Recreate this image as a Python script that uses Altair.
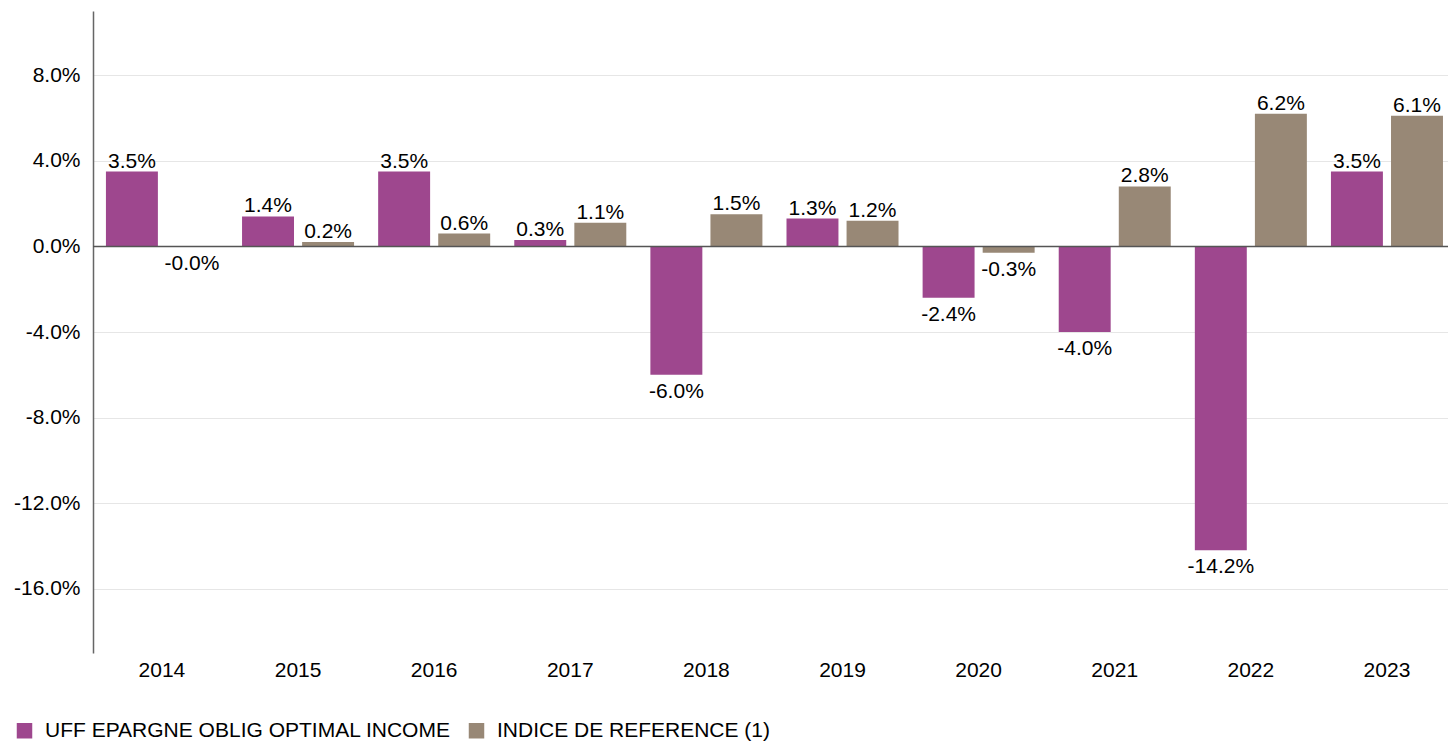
import altair as alt
import pandas as pd

years = ["2014", "2015", "2016", "2017", "2018", "2019", "2020", "2021", "2022", "2023"]
fund = [3.5, 1.4, 3.5, 0.3, -6.0, 1.3, -2.4, -4.0, -14.2, 3.5]
index = [-0.02, 0.2, 0.6, 1.1, 1.5, 1.2, -0.3, 2.8, 6.2, 6.1]
series = ["UFF EPARGNE OBLIG OPTIMAL INCOME", "INDICE DE REFERENCE (1)"]
colors = ["#9E478E", "#988876"]
y_ticks = [-16, -12, -8, -4, 0, 4, 8]

rows = []
for i, y in enumerate(years):
    for s, vals in zip(series, [fund, index]):
        v = vals[i]
        rows.append({"year": y, "series": s, "value": v, "label": f"{v:.1f}%"})
df = pd.DataFrame(rows)

FONT = "Liberation Sans"
FS = 21

x_enc = alt.X("year:N", sort=years,
              scale=alt.Scale(paddingInner=0.177, paddingOuter=0.066, align=0.72),
              axis=alt.Axis(title=None, labelAngle=0, domain=False, ticks=False,
                            labelFontSize=FS, labelFont=FONT, labelColor="#000",
                            labelPadding=6, grid=False))
y_scale = alt.Scale(domain=[-19, 11], nice=False, zero=False)
xoff = alt.XOffset("series:N", sort=series, scale=alt.Scale(paddingInner=0.135, paddingOuter=0))

base = alt.Chart(df)

bars = base.mark_bar().encode(
    x=x_enc,
    xOffset=xoff,
    y=alt.Y("value:Q", scale=y_scale,
            axis=alt.Axis(title=None, values=y_ticks, domain=True, domainColor="#666",
                          domainWidth=1.5, ticks=False, grid=True, gridColor="#e6e6e6",
                          labelFontSize=FS, labelFont=FONT, labelColor="#000", labelPadding=13,
                          labelExpr="(datum.value < 0 ? '-' : '') + format(abs(datum.value), '.1f') + '%'")),
    color=alt.Color("series:N", sort=series,
                    scale=alt.Scale(domain=series, range=colors),
                    legend=alt.Legend(title=None, orient="none", direction="horizontal",
                                      legendX=-79, legendY=709, symbolType="square",
                                      symbolSize=240, symbolStrokeWidth=0, symbolOpacity=1,
                                      labelFontSize=FS, labelFont=FONT, labelColor="#000",
                                      labelOffset=10, columnPadding=15, labelLimit=600,
                                      padding=0)),
)

pos_text = base.transform_filter("datum.value >= 0").mark_text(
    baseline="alphabetic", dy=-4, fontSize=FS, font=FONT, color="#000"
).encode(x=alt.X("year:N", sort=years), xOffset=alt.XOffset("series:N", sort=series),
         y=alt.Y("value:Q", scale=y_scale), text="label:N")

neg_text = base.transform_filter("datum.value < 0").mark_text(
    baseline="top", dy=6, fontSize=FS, font=FONT, color="#000"
).encode(x=alt.X("year:N", sort=years), xOffset=alt.XOffset("series:N", sort=series),
         y=alt.Y("value:Q", scale=y_scale), text="label:N")

zero = alt.Chart(pd.DataFrame({"z": [0]})).mark_rule(color="#555", strokeWidth=1.5).encode(
    y=alt.Y("z:Q", scale=y_scale))

chart = alt.layer(bars, pos_text, neg_text, zero).properties(
    width=1355, height=642,
    autosize=alt.AutoSizeParams(type="none"),
    padding={"left": 93, "top": 11, "right": 0, "bottom": 89},
).configure_view(stroke=None)

chart.save("out.html", embed_options={"renderer": "svg", "actions": False})
